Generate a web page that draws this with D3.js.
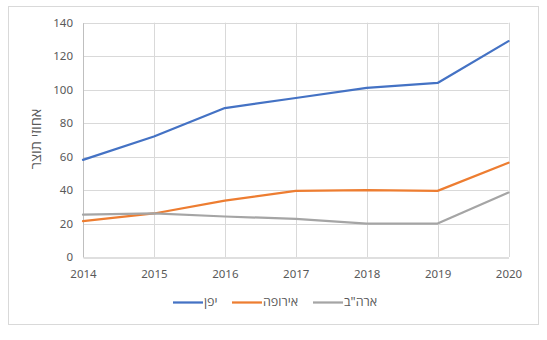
<!DOCTYPE html>
<html>
<head>
<meta charset="utf-8">
<script src="https://cdn.jsdelivr.net/npm/d3@7"></script>
<style>
  body { margin: 0; background: #fff; }
  text { font-family: "Noto Sans", "Open Sans", sans-serif; }
</style>
</head>
<body>
<svg id="chart" width="547" height="340"></svg>
<script>
const years = [2014, 2015, 2016, 2017, 2018, 2019, 2020];
const seriesNames = ["יפן", "אירופה", "ארה\"ב"];
const japan = [58, 72, 89, 95, 101, 104, 129];
const europe = [21.5, 26, 33.7, 39.5, 40, 39.5, 56.3];
const usa = [25.3, 26, 24.2, 22.8, 20, 20, 38.5];
const yTicks = [0, 20, 40, 60, 80, 100, 120, 140];
const colors = ["#4472C4", "#ED7D31", "#A5A5A5"];
const yTitle = "אחוזי תוצר";

const series = [japan, europe, usa];
const svg = d3.select("#chart");

svg.append("rect").attr("x", 8.5).attr("y", 6.5).attr("width", 530).attr("height", 318)
  .attr("fill", "#fff").attr("stroke", "#D9D9D9");

const x = d3.scalePoint().domain(years).range([83, 508.5]);
const y = d3.scaleLinear().domain([0, 140]).range([257, 22.7]);

// gridlines
svg.append("g").selectAll("line").data(yTicks.filter(d => d > 0)).join("line")
  .attr("x1", 83).attr("x2", 508.5)
  .attr("y1", d => Math.round(y(d)) + 0.5).attr("y2", d => Math.round(y(d)) + 0.5)
  .attr("stroke", "#D9D9D9");
svg.append("g").selectAll("line").data(years.slice(1)).join("line")
  .attr("x1", d => Math.round(x(d)) + 0.5).attr("x2", d => Math.round(x(d)) + 0.5)
  .attr("y1", y(140)).attr("y2", y(0))
  .attr("stroke", "#D9D9D9");

// axes
const yAxis = d3.axisLeft(y).tickValues(yTicks).tickSize(0).tickPadding(10);
const gy = svg.append("g").attr("transform", "translate(83,0)").call(yAxis);
gy.select(".domain").attr("stroke", "#BFBFBF");
gy.selectAll("text").attr("fill", "#595959").style("font-size", "11.5px");

const xAxis = d3.axisBottom(x).tickSize(0).tickPadding(12).tickFormat(d3.format("d"));
const gx = svg.append("g").attr("transform", `translate(0,${Math.round(y(0)) + 0.5})`).call(xAxis);
gx.select(".domain").attr("stroke", "#BFBFBF");
gx.selectAll("text").attr("fill", "#595959").style("font-size", "11.5px");

// y title
svg.append("text")
  .attr("transform", `translate(41,139) rotate(-90)`)
  .attr("text-anchor", "middle")
  .attr("fill", "#595959")
  .style("font-size", "14.5px")
  .text(yTitle);

// lines
const line = d3.line().x((d, i) => x(years[i])).y(d => y(d));
series.forEach((s, i) => {
  svg.append("path").datum(s).attr("d", line)
    .attr("fill", "none").attr("stroke", colors[i]).attr("stroke-width", 2.25)
    .attr("stroke-linejoin", "round").attr("stroke-linecap", "round");
});

// legend
const legendX = [173, 232, 313];
const legend = svg.append("g");
seriesNames.forEach((name, i) => {
  legend.append("line").attr("x1", legendX[i]).attr("x2", legendX[i] + 30)
    .attr("y1", 302.5).attr("y2", 302.5)
    .attr("stroke", colors[i]).attr("stroke-width", 2.25);
  legend.append("text").attr("x", legendX[i] + 31).attr("y", 303)
    .attr("dominant-baseline", "middle")
    .attr("fill", "#595959").style("font-size", "12.5px")
    .text(name);
});
</script>
</body>
</html>
